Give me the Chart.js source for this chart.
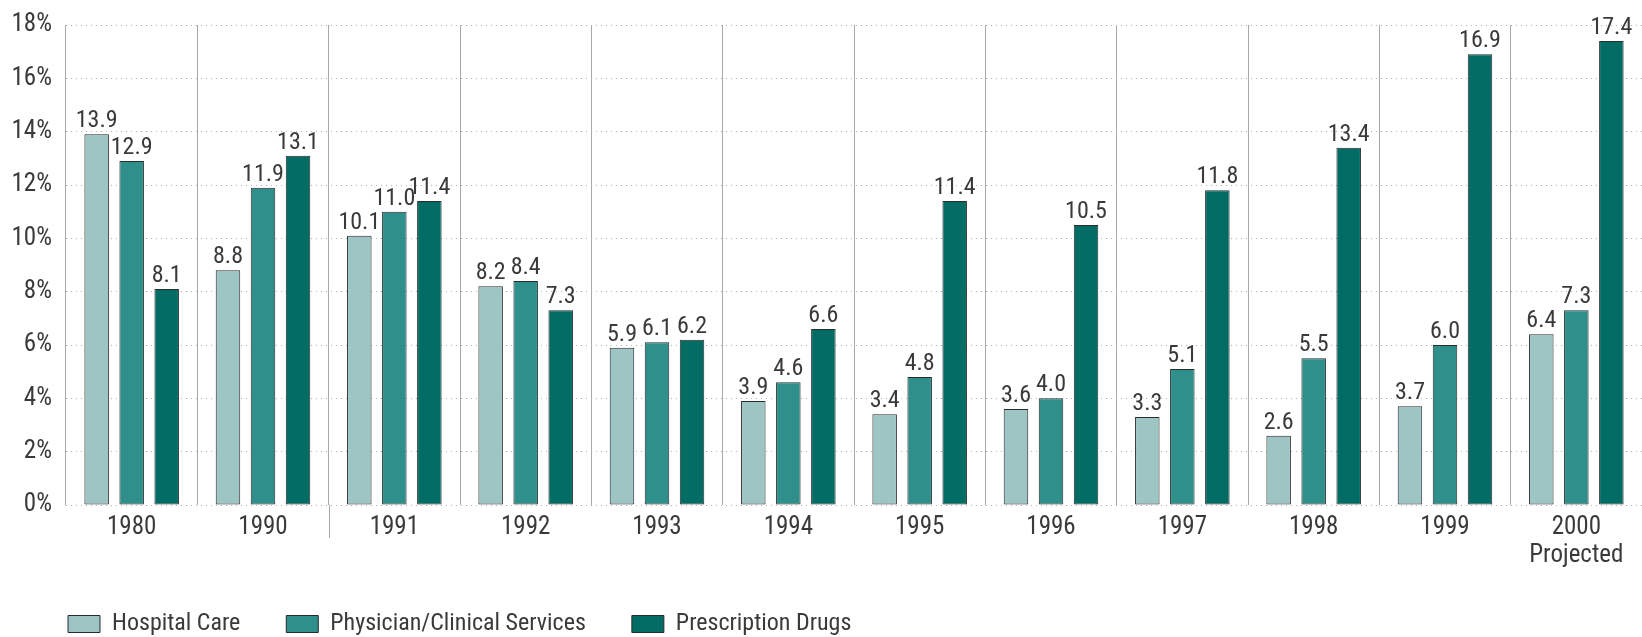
<!DOCTYPE html>
<html>
<head>
<meta charset="utf-8">
<script src="https://cdn.jsdelivr.net/npm/chart.js@4/dist/chart.umd.min.js"></script>
<style>
  html, body { margin: 0; padding: 0; background: #fff; }
  .wrap { width: 1642px; height: 637px; }
</style>
</head>
<body>
<div class="wrap"><canvas id="myChart" width="1642" height="637"></canvas></div>
<script>
const years = ["1980", "1990", "1991", "1992", "1993", "1994", "1995", "1996", "1997", "1998", "1999", ["2000", "Projected"]];
const hospitalCare = [13.9, 8.8, 10.1, 8.2, 5.9, 3.9, 3.4, 3.6, 3.3, 2.6, 3.7, 6.4];
const physicianServices = [12.9, 11.9, 11.0, 8.4, 6.1, 4.6, 4.8, 4.0, 5.1, 5.5, 6.0, 7.3];
const prescriptionDrugs = [8.1, 13.1, 11.4, 7.3, 6.2, 6.6, 11.4, 10.5, 11.8, 13.4, 16.9, 17.4];
const seriesNames = ["Hospital Care", "Physician/Clinical Services", "Prescription Drugs"];
const yTicks = [0, 2, 4, 6, 8, 10, 12, 14, 16, 18];

const colors = ["#9dc5c3", "#2e8f8b", "#006c64"];
const fontFamily = "'Liberation Sans Narrow', 'Roboto Condensed', 'DejaVu Sans Condensed', 'Roboto', sans-serif";
const textColor = "#3a3a3a";
const lineGray = "#a8a8a8";

// value labels above the bars
const barLabels = {
  id: "barLabels",
  afterDatasetsDraw(chart) {
    const ctx = chart.ctx;
    ctx.save();
    ctx.font = "24px " + fontFamily;
    ctx.fillStyle = textColor;
    ctx.textAlign = "center";
    ctx.textBaseline = "bottom";
    chart.data.datasets.forEach((ds, i) => {
      chart.getDatasetMeta(i).data.forEach((bar, j) => {
        ctx.fillText(ds.data[j].toFixed(1), bar.x, bar.y - 1);
      });
    });
    ctx.restore();
  }
};

// longer separator between 1990 and 1991 (break in the year sequence)
const breakLine = {
  id: "breakLine",
  afterDraw(chart) {
    const x = chart.scales.x;
    const px = (x.getPixelForValue(1) + x.getPixelForValue(2)) / 2;
    const ctx = chart.ctx;
    ctx.save();
    ctx.strokeStyle = lineGray;
    ctx.lineWidth = 1;
    ctx.beginPath();
    ctx.moveTo(Math.round(px) + 0.5, chart.chartArea.bottom);
    ctx.lineTo(Math.round(px) + 0.5, chart.chartArea.bottom + 33);
    ctx.stroke();
    ctx.restore();
  }
};

// legend starts a bit to the right of the y tick labels, and sits a little higher
const legendNudge = {
  id: "legendNudge",
  afterLayout(chart) {
    chart.legend.left += 10;
    chart.legend.top -= 3;
    chart.legend.bottom -= 3;
  }
};

const datasets = [hospitalCare, physicianServices, prescriptionDrugs].map((d, i) => ({
  label: seriesNames[i],
  data: d,
  backgroundColor: colors[i],
  borderColor: "#2a2a2a",
  borderWidth: 1,
  borderSkipped: false,
  categoryPercentage: 0.8,
  barPercentage: 0.7
}));

new Chart(document.getElementById("myChart"), {
  type: "bar",
  data: { labels: years, datasets: datasets },
  plugins: [barLabels, breakLine, legendNudge],
  options: {
    responsive: false,
    animation: false,
    layout: { padding: { top: 0, left: 12, right: 0, bottom: -12 } },
    scales: {
      x: {
        border: { display: false },
        afterFit: (axis) => {
          axis.height = 64;
          axis.paddingRight = 0;
        },
        grid: {
          offset: true,
          color: lineGray,
          lineWidth: 1,
          drawTicks: false
        },
        ticks: {
          padding: 8,
          color: textColor,
          font: { family: fontFamily, size: 25, lineHeight: 1.15 }
        }
      },
      y: {
        min: 0,
        max: 18,
        border: { display: false, dash: [1, 4] },
        afterBuildTicks: (axis) => { axis.ticks = yTicks.map(v => ({ value: v })); },
        afterFit: (axis) => {
          axis.width = 54;
          axis.paddingTop = Math.max(axis.paddingTop - 4, 0);
        },
        grid: {
          color: "#b0b0b0",
          drawTicks: false
        },
        ticks: {
          padding: 14,
          color: textColor,
          font: { family: fontFamily, size: 25 },
          callback: (v) => v + "%"
        }
      }
    },
    plugins: {
      legend: {
        position: "bottom",
        align: "start",
        labels: {
          boxWidth: 32,
          boxHeight: 17,
          padding: 46,
          color: textColor,
          font: { family: fontFamily, size: 24 }
        }
      },
      tooltip: { enabled: false }
    }
  }
});
</script>
</body>
</html>
